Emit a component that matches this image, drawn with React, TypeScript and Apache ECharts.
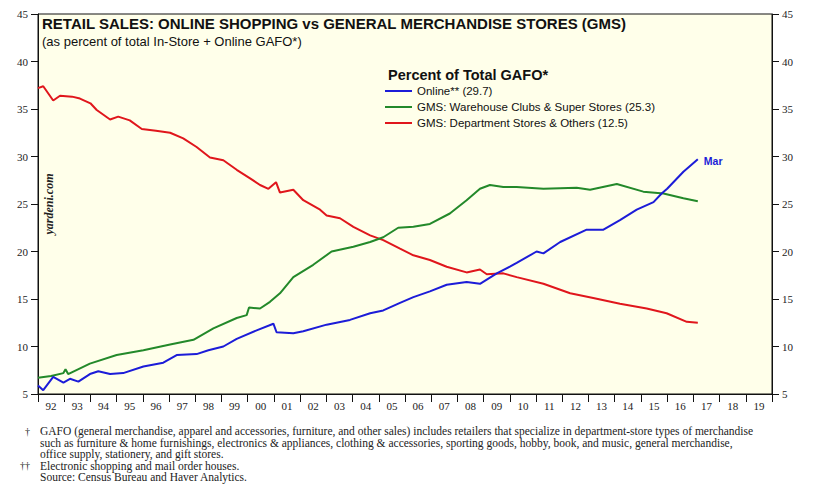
import React, { useEffect, useRef } from "react";
import * as echarts from "echarts";

// Year tick labels (category axis, one per calendar year)
const yearLabels = ["92","93","94","95","96","97","98","99","00","01","02","03","04","05","06","07","08","09","10","11","12","13","14","15","16","17","18","19"];

// Online (non-store retailers), % of total GAFO
const onlineDates = [1992.0,1992.2,1992.58,1992.97,1993.22,1993.54,1993.98,1994.3,1994.75,1995.25,1996.02,1996.78,1997.29,1998.05,1998.5,1999.07,1999.58,2000.34,2000.98,2001.1,2001.74,2002.12,2003.01,2003.9,2004.67,2005.17,2005.81,2006.32,2006.95,2007.59,2008.35,2008.86,2009.5,2010.0,2010.26,2011.02,2011.28,2011.92,2012.93,2013.57,2014.2,2014.84,2015.48,2015.79,2016.0,2016.62,2017.17];
const onlineValues = [5.9,5.4,6.8,6.2,6.6,6.3,7.1,7.4,7.1,7.2,7.9,8.3,9.1,9.2,9.6,10.0,10.8,11.7,12.4,11.5,11.4,11.6,12.3,12.8,13.5,13.8,14.6,15.2,15.8,16.5,16.8,16.6,17.7,18.4,18.8,20.0,19.8,21.0,22.3,22.3,23.3,24.4,25.2,26.1,26.6,28.4,29.7];

// GMS: Warehouse Clubs & Super Stores
const warehouseDates = [1992.0,1992.5,1992.97,1993.05,1993.15,1993.98,1995.0,1996.02,1997.04,1997.93,1998.69,1999.58,1999.96,2000.05,2000.47,2000.85,2001.23,2001.74,2002.5,2003.2,2004.03,2004.67,2005.17,2005.74,2006.32,2006.95,2007.71,2008.35,2008.86,2009.24,2009.75,2010.26,2011.28,2012.55,2013.06,2014.08,2015.09,2015.86,2016.62,2017.17];
const warehouseValues = [6.7,6.9,7.2,7.6,7.1,8.2,9.1,9.6,10.2,10.7,11.9,13.0,13.3,14.1,14.0,14.7,15.6,17.3,18.6,20.0,20.5,21.0,21.5,22.5,22.6,22.9,24.0,25.4,26.6,27.0,26.8,26.8,26.6,26.7,26.5,27.1,26.3,26.1,25.6,25.3];

// GMS: Department Stores & Others
const deptDates = [1992.0,1992.2,1992.58,1992.84,1993.3,1993.6,1994.0,1994.24,1994.75,1995.06,1995.5,1995.96,1996.5,1997.04,1997.54,1998.05,1998.56,1999.07,1999.58,2000.09,2000.47,2000.79,2001.08,2001.23,2001.74,2002.12,2002.76,2003.01,2003.52,2004.03,2004.67,2005.17,2005.81,2006.32,2006.95,2007.59,2008.35,2008.86,2009.12,2009.75,2010.26,2011.28,2012.3,2013.18,2014.2,2015.22,2015.98,2016.75,2017.17];
const deptValues = [37.2,37.4,35.9,36.4,36.3,36.1,35.6,34.9,33.9,34.2,33.8,32.9,32.7,32.5,31.9,31.0,29.9,29.6,28.6,27.7,27.0,26.6,27.3,26.2,26.5,25.4,24.4,23.8,23.5,22.6,21.7,21.2,20.3,19.6,19.1,18.4,17.8,18.1,17.6,17.7,17.3,16.6,15.6,15.1,14.5,14.0,13.5,12.6,12.5];

const seriesNames = [
  "Online** (29.7)",
  "GMS: Warehouse Clubs & Super Stores (25.3)",
  "GMS: Department Stores & Others (12.5)",
];

const footnotes = [
  { mark: "\u2020", text: "GAFO (general merchandise, apparel and accessories, furniture, and other sales) includes retailers that specialize in department-store types of merchandise" },
  { mark: "", text: "such as furniture & home furnishings, electronics & appliances, clothing & accessories, sporting goods, hobby, book, and music, general merchandise," },
  { mark: "", text: "office supply, stationery, and gift stores." },
  { mark: "\u2020\u2020", text: "Electronic shopping and mail order houses." },
  { mark: "", text: "Source: Census Bureau and Haver Analytics." },
];

const zip = (xs: number[], ys: number[]) => xs.map((x, i) => [x, ys[i]]);

export default function App() {
  const ref = useRef<HTMLDivElement>(null);
  useEffect(() => {
    document.body.style.margin = "0";
    if (!ref.current) return;
    const chart = echarts.init(ref.current, null, { renderer: "svg" });
    const serif = "Liberation Serif";
    const sans = "Liberation Sans";
    const colors = ["#1c1cd8", "#23892a", "#e0161c"];
    const footGraphics: any[] = [];
    footnotes.forEach((f, i) => {
      const y = 431 + i * 11.5;
      if (f.mark) {
        footGraphics.push({ type: "text", x: 30, y, style: { text: f.mark, font: `10px "${serif}"`, fill: "#222", textAlign: "right", textVerticalAlign: "middle" } });
      }
      footGraphics.push({ type: "text", x: 40, y, style: { text: f.text, font: `11.5px "${serif}"`, fill: "#222", textAlign: "left", textVerticalAlign: "middle" } });
    });
    const lineSeries = [
      { name: seriesNames[0], data: zip(onlineDates, onlineValues), color: colors[0] },
      { name: seriesNames[1], data: zip(warehouseDates, warehouseValues), color: colors[1] },
      { name: seriesNames[2], data: zip(deptDates, deptValues), color: colors[2] },
    ].map((s, i) => ({
      type: "line",
      name: s.name,
      xAxisIndex: 0,
      yAxisIndex: 0,
      data: s.data,
      showSymbol: false,
      symbol: "none",
      color: s.color,
      lineStyle: { width: 2, color: s.color },
      z: 3 - i,
      endLabel: i === 0 ? { show: true, formatter: "Mar", color: s.color, fontFamily: sans, fontSize: 10.5, fontWeight: "bold", distance: 6, offset: [0, 2] } : undefined,
    }));
    chart.setOption({
      animation: false,
      backgroundColor: "#ffffff",
      grid: { left: 38, right: 66, top: 14, bottom: 110, show: true, backgroundColor: "#ffffea", borderColor: "#111", borderWidth: 1 },
      legend: {
        left: 385,
        top: 85,
        padding: 0,
        orient: "vertical",
        itemWidth: 27,
        itemHeight: 2,
        itemGap: 4,
        icon: "rect",
        data: seriesNames,
        textStyle: { fontFamily: sans, fontSize: 11.5, color: "#111", lineHeight: 12 },
      },
      xAxis: [
        { type: "value", min: 1992, max: 2020, show: false },
        {
          type: "category",
          data: yearLabels,
          position: "bottom",
          boundaryGap: true,
          axisLine: { show: true, lineStyle: { color: "#111", width: 1 } },
          axisTick: { show: true, interval: 0, inside: false, length: 8, lineStyle: { color: "#111" } },
          axisLabel: { interval: 0, fontFamily: serif, fontSize: 11, color: "#222", margin: 6 },
          splitLine: { show: false },
        },
      ],
      yAxis: [
        {
          type: "value", min: 5, max: 45, interval: 5, position: "left",
          axisLine: { show: true, lineStyle: { color: "#111" } },
          axisTick: { show: true, inside: false, length: 7, lineStyle: { color: "#111" } },
          axisLabel: { fontFamily: serif, fontSize: 11, color: "#222", margin: 10 },
          splitLine: { show: false },
        },
        {
          type: "value", min: 5, max: 45, interval: 5, position: "right",
          axisLine: { show: true, lineStyle: { color: "#111" } },
          axisTick: { show: true, inside: false, length: 7, lineStyle: { color: "#111" } },
          axisLabel: { fontFamily: serif, fontSize: 11, color: "#222", margin: 10 },
          splitLine: { show: false },
        },
      ],
      series: lineSeries,
      graphic: [
        { type: "text", x: 42, y: 23, style: { text: "RETAIL SALES: ONLINE SHOPPING vs GENERAL MERCHANDISE STORES (GMS)", font: `bold 15px "${sans}"`, fill: "#111", textVerticalAlign: "middle" } },
        { type: "text", x: 42, y: 41, style: { text: "(as percent of total In-Store + Online GAFO*)", font: `13px "${sans}"`, fill: "#111", textVerticalAlign: "middle" } },
        { type: "text", x: 388, y: 75, style: { text: "Percent of Total GAFO*", font: `bold 14.5px "${sans}"`, fill: "#111", textVerticalAlign: "middle" } },
        { type: "text", x: 49, y: 204, rotation: Math.PI / 2, style: { text: "yardeni.com", font: `italic bold 12px "${serif}"`, fill: "#222", textAlign: "center", textVerticalAlign: "middle" } },
        ...footGraphics,
      ],
    });
    return () => chart.dispose();
  }, []);
  return <div ref={ref} style={{ width: 838, height: 504 }} />;
}
